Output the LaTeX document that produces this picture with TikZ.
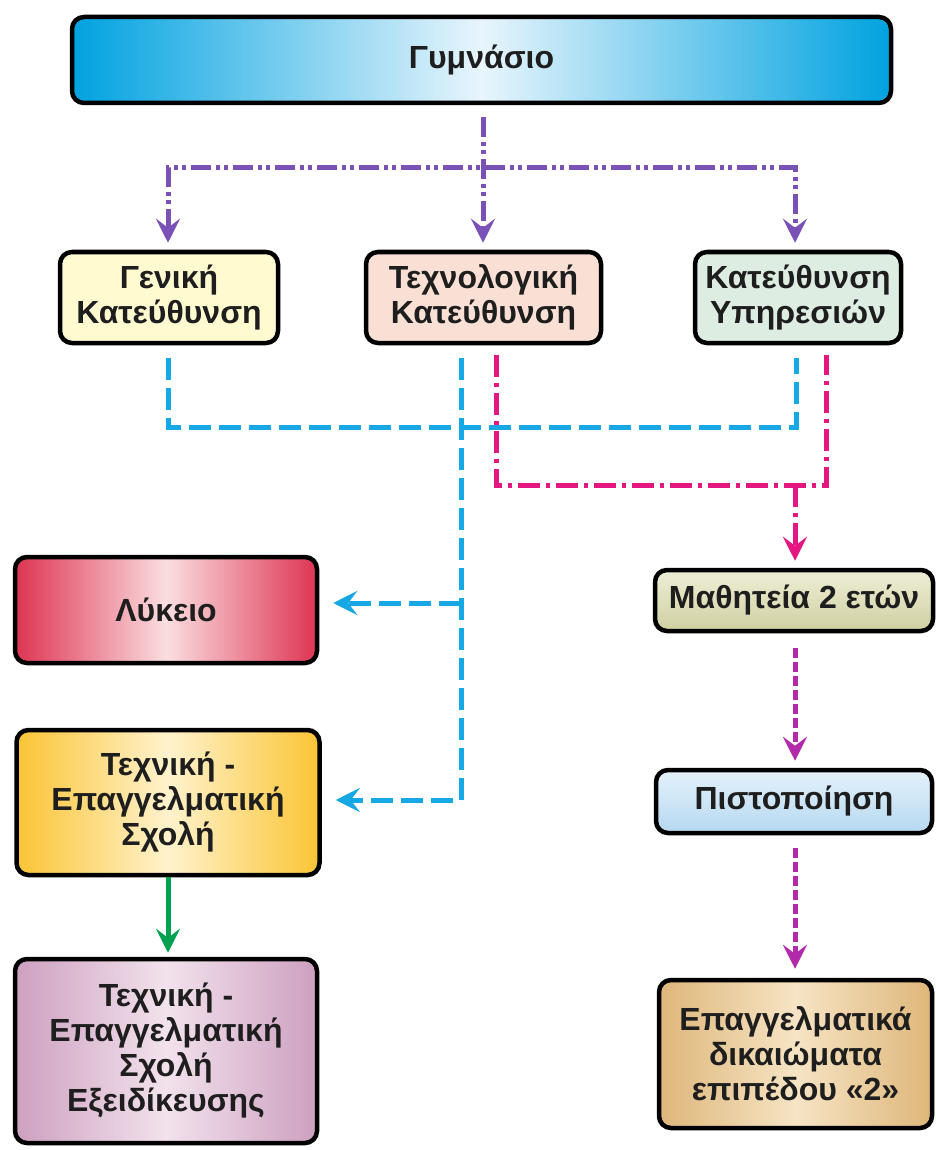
\documentclass[tikz,border=0pt]{standalone}
\usepackage{fontspec}
\setmainfont{Liberation Sans}
\usetikzlibrary{arrows.meta}
\definecolor{purc}{RGB}{122,82,182}
\definecolor{cyc}{RGB}{22,168,228}
\definecolor{magc}{RGB}{228,22,128}
\definecolor{lpc}{RGB}{178,42,170}
\definecolor{grc}{RGB}{0,162,82}
\definecolor{gymc}{RGB}{0,162,224}
\definecolor{gymm}{RGB}{232,245,252}
\definecolor{genc}{RGB}{255,250,208}
\definecolor{techc}{RGB}{250,224,212}
\definecolor{servc}{RGB}{222,237,226}
\definecolor{lykc}{RGB}{222,52,82}
\definecolor{lykm}{RGB}{250,222,224}
\definecolor{tesc}{RGB}{250,196,52}
\definecolor{tesm}{RGB}{255,242,205}
\definecolor{tsc}{RGB}{205,160,192}
\definecolor{tsm}{RGB}{242,226,236}
\definecolor{matt}{RGB}{238,238,214}
\definecolor{matb}{RGB}{208,208,162}
\definecolor{pist}{RGB}{228,242,252}
\definecolor{pisb}{RGB}{182,216,240}
\definecolor{epdc}{RGB}{222,182,122}
\definecolor{epdm}{RGB}{246,228,196}
\definecolor{txt}{RGB}{30,30,30}
\begin{document}
\begin{tikzpicture}[x=1pt,y=-1pt,
  box/.style={draw=black, line width=4.5pt, rounded corners=12pt, align=center,
    inner sep=0pt, text=txt, font=\fontsize{32}{35}\selectfont\bfseries},
  conn/.style={line width=5pt, line join=miter},
  tip/.style={-{Stealth[length=24pt,width=24pt,inset=9pt]}},
  purline/.style={conn, draw=purc, dash pattern=on 20pt off 5pt on 4pt off 4pt on 4pt off 5pt},
  cyline/.style={conn, draw=cyc, dash pattern=on 22pt off 8pt},
  magline/.style={conn, draw=magc, dash pattern=on 22pt off 6pt on 4pt off 6pt},
  lpline/.style={conn, draw=lpc, dash pattern=on 10pt off 4pt},
  grline/.style={conn, draw=grc}
]
\useasboundingbox[fill=white] (0,0) rectangle (936,1150);

% boxes
\node[box, minimum width=819, minimum height=86, left color=gymc, right color=gymc, middle color=gymm] (gym) at (481.5,60) {Γυμνάσιο};
\node[box, minimum width=218, minimum height=91, fill=genc] (gen) at (169,297.5) {Γενική\\Κατεύθυνση};
\node[box, minimum width=235, minimum height=91, fill=techc] (tech) at (483.5,297.5) {Τεχνολογική\\Κατεύθυνση};
\node[box, minimum width=206, minimum height=91, fill=servc] (serv) at (798,297.5) {Κατεύθυνση\\Υπηρεσιών};
\node[box, minimum width=302, minimum height=106, left color=lykc, right color=lykc, middle color=lykm] (lyk) at (166,610) {Λύκειο};
\node[box, minimum width=303, minimum height=145, left color=tesc, right color=tesc, middle color=tesm] (tes) at (168,802.5) {Τεχνική -\\Επαγγελματική\\Σχολή};
\node[box, minimum width=302, minimum height=184, left color=tsc, right color=tsc, middle color=tsm] (tes2) at (166,1051) {Τεχνική -\\Επαγγελματική\\Σχολή\\Εξειδίκευσης};
\node[box, minimum width=278, minimum height=61, top color=matt, bottom color=matb] (mat) at (794,600.5) {Μαθητεία 2 ετών};
\node[box, minimum width=276, minimum height=63, top color=pist, bottom color=pisb] (pis) at (794,801.5) {Πιστοποίηση};
\node[box, minimum width=273, minimum height=148, left color=epdc, right color=epdc, middle color=epdm] (epd) at (795.5,1054) {Επαγγελματικά\\δικαιώματα\\επιπέδου «2»};

% purple connectors
\coordinate (p0) at (483,117);
\coordinate (pL) at (168,168);
\coordinate (pR) at (795,168);
\draw[purline, tip, shorten >=7pt] (p0) -- (p0 |- tech.north);
\draw[purline, {Stealth[length=24pt,width=24pt,inset=9pt]}-{Stealth[length=24pt,width=24pt,inset=9pt]}, shorten >=7pt, shorten <=7pt]
  (pL |- gen.north) -- (pL) -- (pR) -- (pR |- serv.north);

% cyan connectors
\coordinate (c1) at (168,358);
\coordinate (c2) at (168,427);
\coordinate (c3) at (796,427);
\coordinate (c4) at (796,358);
\coordinate (c5) at (461,358);
\coordinate (c6) at (461,800);
\coordinate (c7) at (461,603);
\draw[cyline] (c1) -- (c2) -- (c3) -- (c4);
\draw[cyline, tip, shorten >=14pt] (c5) -- (c6) -- (c6 -| tes.east);
\draw[cyline, tip, shorten >=14pt] (c7) -- (c7 -| lyk.east);

% magenta connectors
\coordinate (m1) at (496,355);
\coordinate (m2) at (496,485);
\coordinate (m3) at (826,485);
\coordinate (m4) at (826,355);
\coordinate (m5) at (795,485);
\draw[magline] (m1) -- (m2) -- (m3) -- (m4);
\draw[magline, tip, shorten >=7pt] (m5) -- (m5 |- mat.north);

% lower purple-magenta connectors
\coordinate (l1) at (795,648);
\coordinate (l2) at (795,848);
\draw[lpline, tip, shorten >=7pt] (l1) -- (l1 |- pis.north);
\draw[lpline, tip, shorten >=9pt] (l2) -- (l2 |- epd.north);

% green connector
\draw[grline, tip, shorten >=4pt] (tes.south) -- (tes.south |- tes2.north);
\end{tikzpicture}
\end{document}
